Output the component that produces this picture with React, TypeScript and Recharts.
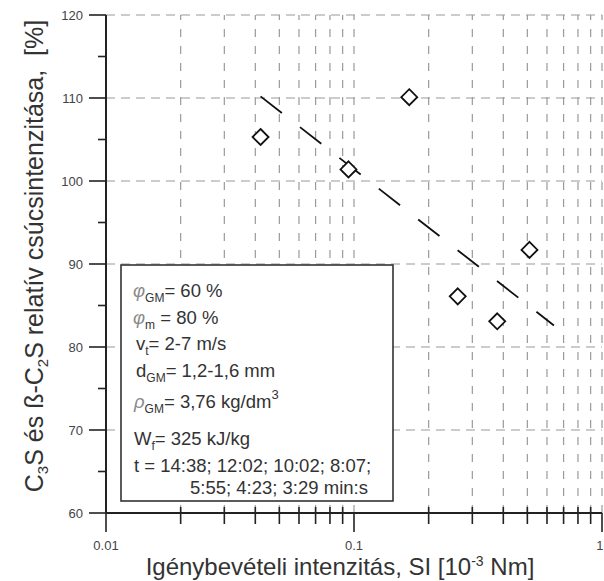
import React from 'react';
import { ComposedChart, XAxis, YAxis, Scatter, Line, ReferenceLine } from 'recharts';

const W = 604;
const H = 581;

const pointX = [0.042, 0.095, 0.167, 0.262, 0.378, 0.51];
const pointY = [105.3, 101.4, 110.1, 86.1, 83.1, 91.7];
const trendX = [0.042, 0.64];
const trendY = [110.2, 82.6];

const xTicks = [0.01, 0.02, 0.03, 0.04, 0.05, 0.06, 0.07, 0.08, 0.09, 0.1, 0.2, 0.3, 0.4, 0.5, 0.6, 0.7, 0.8, 0.9, 1];
const xMajor = [0.01, 0.1, 1];
const xLabels = ['0.01', '0.1', '1'];
const xGrid = [0.02, 0.03, 0.04, 0.05, 0.06, 0.07, 0.08, 0.09, 0.1, 0.2, 0.3, 0.4, 0.5, 0.6, 0.7, 0.8, 0.9, 1];
const yTicks = [60, 65, 70, 75, 80, 85, 90, 95, 100, 105, 110, 115, 120];
const yMajor = [60, 70, 80, 90, 100, 110, 120];
const yGrid = [70, 80, 90, 100, 110, 120];

const points = pointX.map((x, i) => ({ x, y: pointY[i] }));
const trend = trendX.map((x, i) => ({ x, y: trendY[i] }));

const FONT = '"Liberation Sans", Arial, sans-serif';
const AX = '#222';

const YTick = (props: any) => {
  const { x, y, payload } = props;
  const v = payload.value;
  const major = yMajor.includes(v);
  return (
    <g>
      <line x1={x} x2={x - (major ? 17 : 8)} y1={y} y2={y} stroke={AX} strokeWidth={1.6} />
      {major && (
        <text x={x - 23} y={y} dy={4.5} textAnchor="end" fontSize={13} fill="#444" fontFamily={FONT}>
          {v}
        </text>
      )}
    </g>
  );
};

const XTick = (props: any) => {
  const { x, y, payload } = props;
  const v = payload.value;
  const idx = xMajor.indexOf(v);
  const major = idx >= 0;
  const last = idx === xMajor.length - 1;
  return (
    <g>
      <line x1={x} x2={x} y1={y - (major ? 0 : 6)} y2={y + (major ? 19 : 11)} stroke={AX} strokeWidth={1.6} />
      {major && (
        <text
          x={last ? W - 0.5 : x}
          y={y + 37}
          textAnchor={last ? 'end' : 'middle'}
          fontSize={13}
          fill="#444"
          fontFamily={FONT}
        >
          {xLabels[idx]}
        </text>
      )}
    </g>
  );
};

const Diamond = (props: any) => {
  const { cx, cy } = props;
  const r = 8;
  return (
    <polygon
      points={`${cx},${cy - r} ${cx + r},${cy} ${cx},${cy + r} ${cx - r},${cy}`}
      fill="#fff"
      stroke="#111"
      strokeWidth={1.8}
    />
  );
};

export default function App() {
  const txt = { fontFamily: FONT, fill: '#333' } as any;
  const greek = { fontStyle: 'italic', fill: '#8a8a8a' } as any;
  return (
    <div style={{ position: 'absolute', left: 0, top: 0, width: W, height: H, background: '#fff' }}>
      <ComposedChart width={W} height={H} margin={{ top: 15, right: 2, bottom: 0, left: 0 }}>
        <XAxis
          dataKey="x"
          type="number"
          scale="log"
          domain={[0.01, 1]}
          ticks={xTicks}
          interval={0}
          height={68}
          tickSize={0}
          tickMargin={0}
          tickLine={false}
          tick={<XTick />}
          axisLine={{ stroke: AX, strokeWidth: 2 }}
          allowDataOverflow
        />
        <YAxis
          dataKey="y"
          type="number"
          domain={[60, 120]}
          ticks={yTicks}
          interval={0}
          width={106}
          tickSize={0}
          tickMargin={0}
          tickLine={false}
          tick={<YTick />}
          axisLine={{ stroke: AX, strokeWidth: 2 }}
          allowDataOverflow
        />
        {xGrid.map((v) => (
          <ReferenceLine key={'gx' + v} x={v} stroke="#9a9a9a" strokeWidth={1.2} strokeDasharray="8 9" />
        ))}
        {yGrid.map((v) => (
          <ReferenceLine key={'gy' + v} y={v} stroke="#9a9a9a" strokeWidth={1.2} strokeDasharray="9 6" />
        ))}
        <Line
          data={trend}
          dataKey="y"
          type="linear"
          stroke="#111"
          strokeWidth={1.8}
          strokeDasharray="27 23"
          dot={false}
          activeDot={false}
          isAnimationActive={false}
        />
        <Scatter data={points} dataKey="y" shape={<Diamond />} isAnimationActive={false} />
      </ComposedChart>
      <svg
        width={W}
        height={H}
        style={{ position: 'absolute', left: 0, top: 0, pointerEvents: 'none' }}
      >
        <text
          transform="translate(43,256) rotate(-90)"
          textAnchor="middle"
          fontSize={25}
          style={{ whiteSpace: 'pre' }}
          {...txt}
        >
          C<tspan dy={5} fontSize={15}>3</tspan>
          <tspan dy={-5}>S és ß-C</tspan>
          <tspan dy={5} fontSize={15}>2</tspan>
          <tspan dy={-5}>S relatív csúcsintenzitása,  [%]</tspan>
        </text>
        <text x={340} y={575} textAnchor="middle" fontSize={24} {...txt}>
          Igénybevételi intenzitás, SI [10
          <tspan dy={-9} fontSize={14}>-3</tspan>
          <tspan dy={9}> Nm]</tspan>
        </text>
        <rect x={121} y={265} width={272} height={236} fill="#fff" stroke="#333" strokeWidth={1.6} />
        <g fontSize={18.5} {...txt}>
          <text x={133} y={297}>
            <tspan {...greek}>φ</tspan>
            <tspan dy={5} fontSize={12}>GM</tspan>
            <tspan dy={-5}>= 60 %</tspan>
          </text>
          <text x={133} y={324}>
            <tspan {...greek}>φ</tspan>
            <tspan dy={5} fontSize={12}>m</tspan>
            <tspan dy={-5}> = 80 %</tspan>
          </text>
          <text x={136} y={350}>
            v<tspan dy={5} fontSize={12}>t</tspan>
            <tspan dy={-5}>= 2-7 m/s</tspan>
          </text>
          <text x={136} y={377}>
            d<tspan dy={5} fontSize={12}>GM</tspan>
            <tspan dy={-5}>= 1,2-1,6 mm</tspan>
          </text>
          <text x={134} y={408}>
            <tspan {...greek}>ρ</tspan>
            <tspan dy={5} fontSize={12}>GM</tspan>
            <tspan dy={-5}>= 3,76 kg/dm</tspan>
            <tspan dy={-9} fontSize={13}>3</tspan>
          </text>
          <text x={134} y={445}>
            W<tspan dy={5} fontSize={12}>f</tspan>
            <tspan dy={-5}>= 325 kJ/kg</tspan>
          </text>
          <text x={134} y={472} style={{ whiteSpace: 'pre' }}>
            t = 14:38; 12:02; 10:02; 8:07;
          </text>
          <text x={190} y={494} style={{ whiteSpace: 'pre' }}>
            5:55; 4:23; 3:29 min:s
          </text>
        </g>
      </svg>
    </div>
  );
}
